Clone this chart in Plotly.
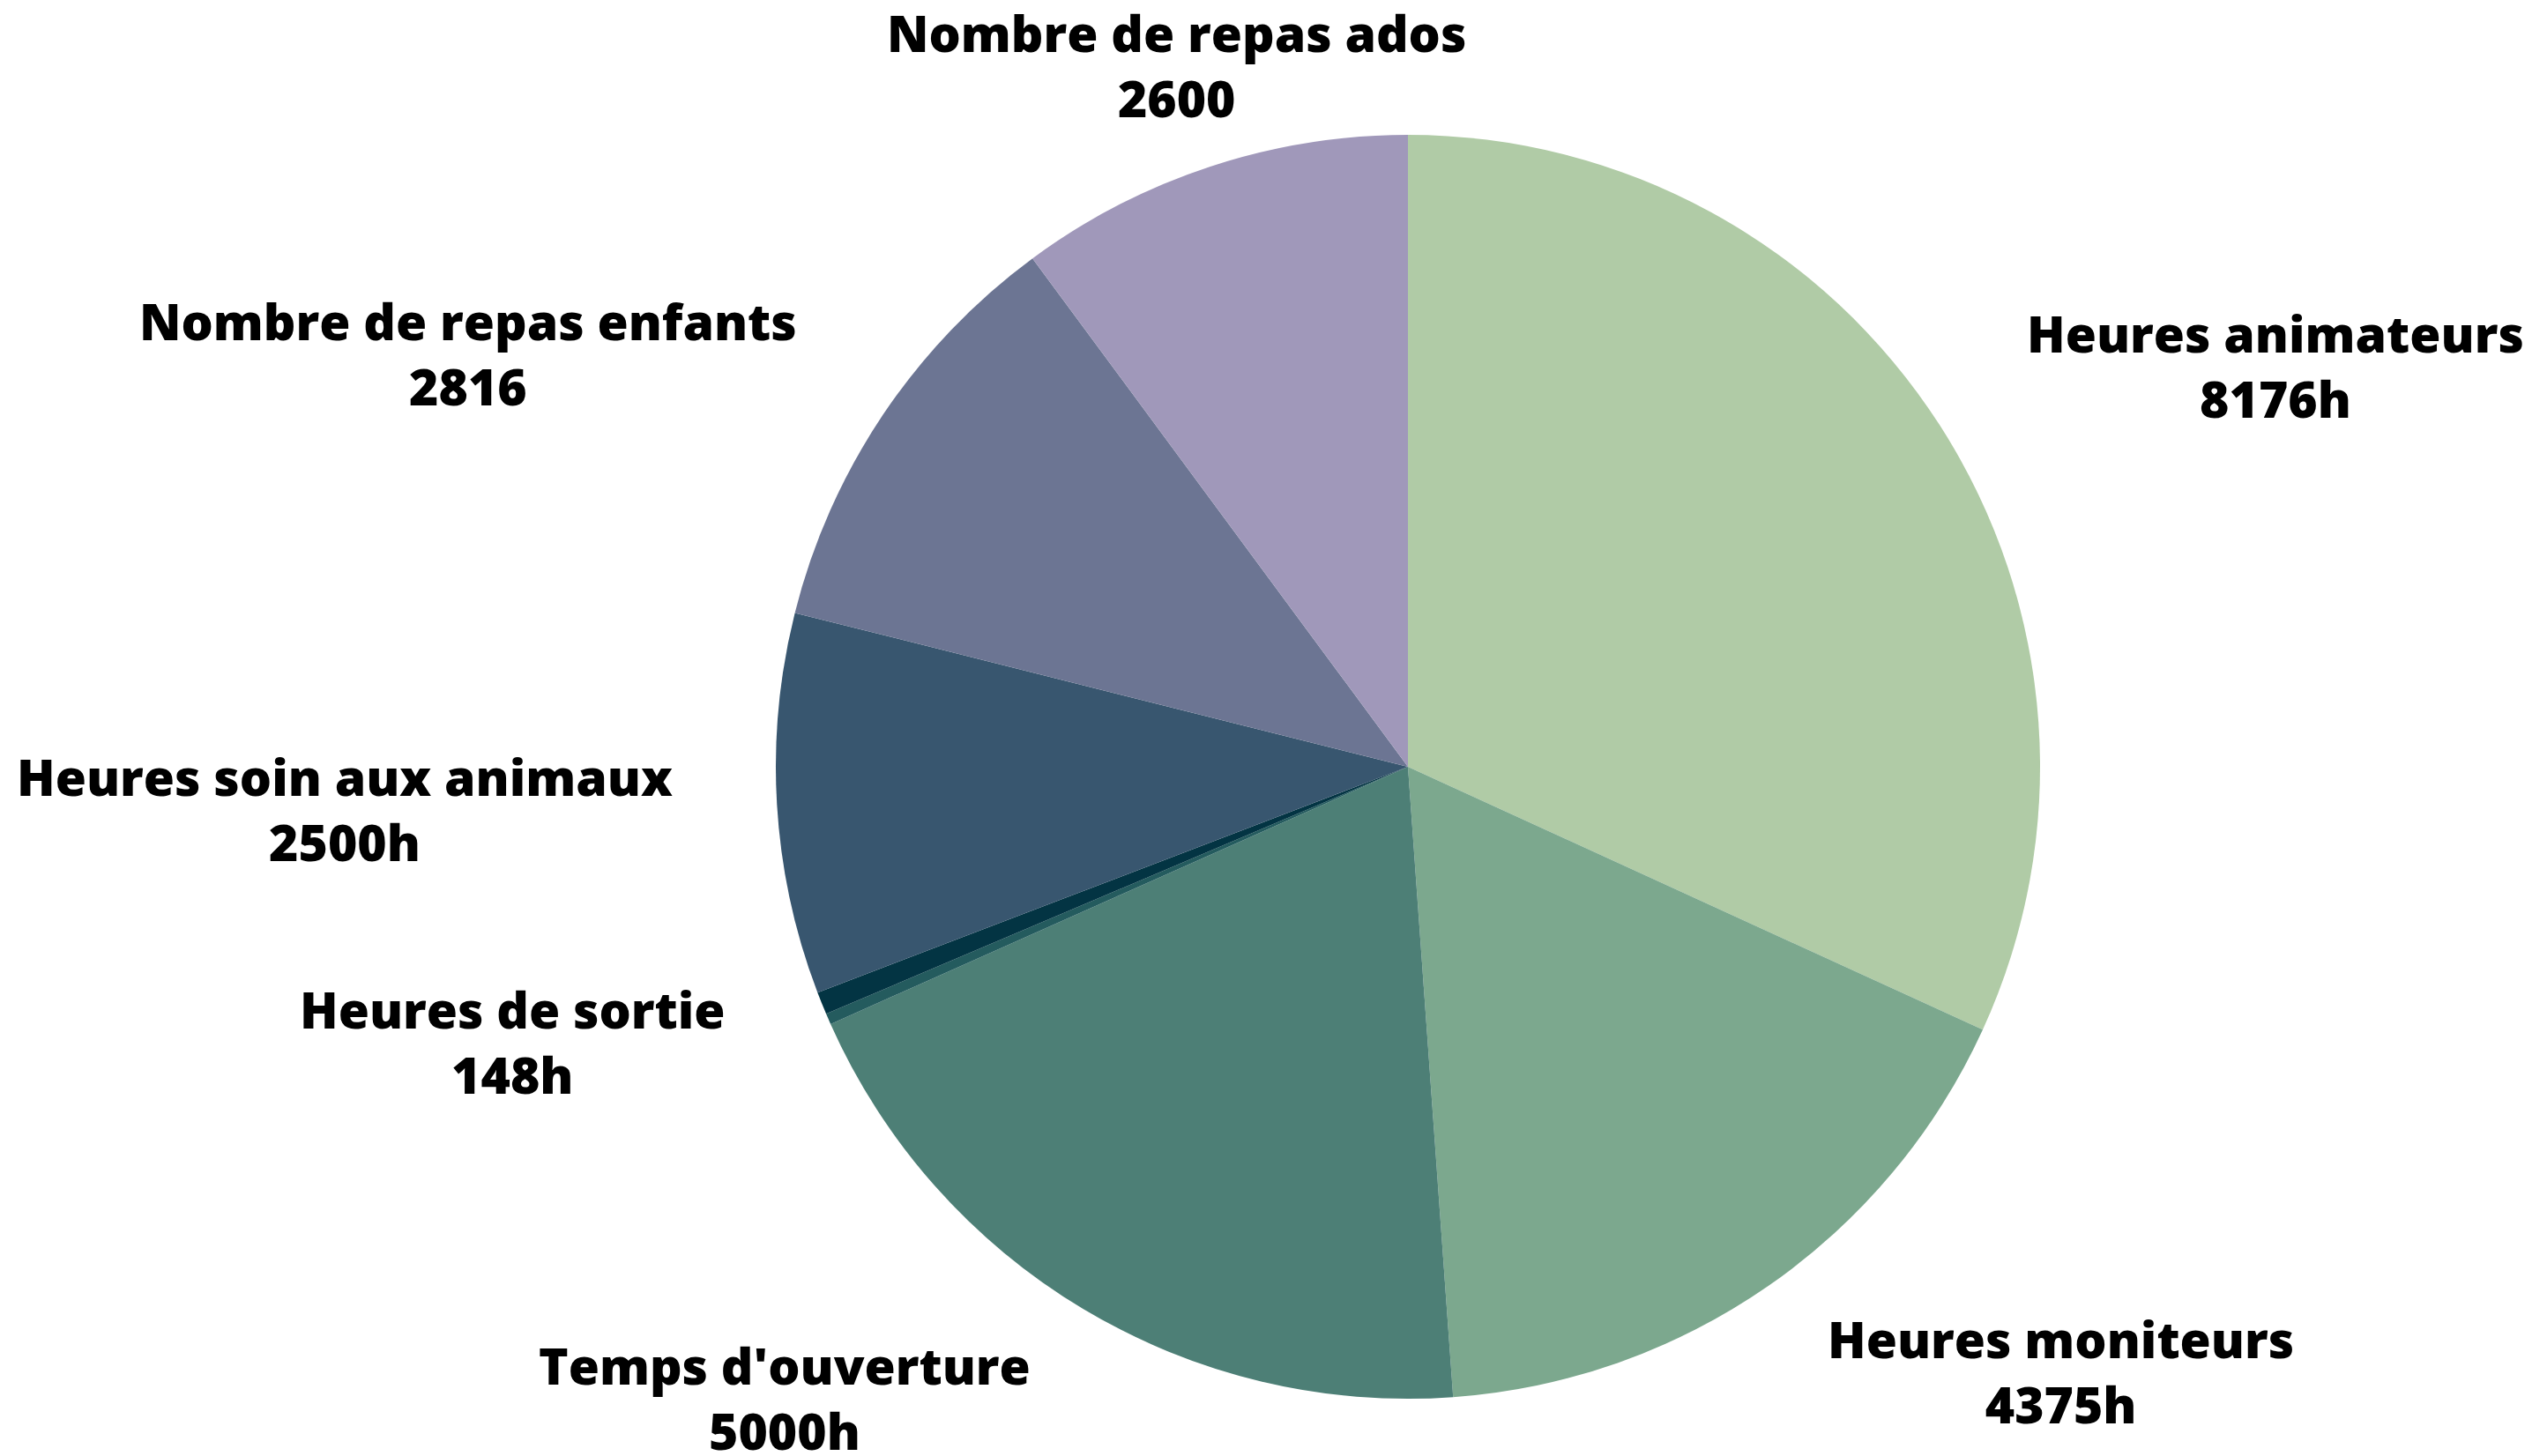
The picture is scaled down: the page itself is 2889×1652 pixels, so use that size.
import plotly.graph_objects as go

# ---- data ----
categories = ["Heures animateurs", "Heures moniteurs", "Temps d'ouverture", "",
              "Heures de sortie", "Heures soin aux animaux",
              "Nombre de repas enfants", "Nombre de repas ados"]
values = [8176, 4375, 5000, 72, 148, 2500, 2816, 2600]
value_labels = ["8176h", "4375h", "5000h", "", "148h", "2500h", "2816", "2600"]
colors = ["#b0cba6", "#7ca88e", "#4d7f76", "#245b5e", "#033443",
          "#38566f", "#6c7593", "#a098ba"]

# ---- layout positions for labels (pixel centres, layout only) ----
W, H = 2889, 1652
label_pos = [(2573, 407), (2329, 1548), (882, 1578), None,
             (573, 1174), (383, 910), (523, 393), (1326, 66)]

fig = go.Figure(go.Pie(
    labels=[c if c else "autre" for c in categories],
    values=values,
    sort=False,
    direction="clockwise",
    rotation=0,
    marker=dict(colors=colors, line=dict(width=0)),
    textinfo="none",
    hoverinfo="label+value",
    showlegend=False,
    domain=dict(x=[872 / W, 2306 / W], y=[1 - 1579 / H, 1 - 145 / H]),
))

for cat, vl, pos in zip(categories, value_labels, label_pos):
    if pos is None or not cat:
        continue
    fig.add_annotation(
        x=pos[0] / W, y=1 - pos[1] / H, xref="paper", yref="paper",
        text=f"{cat}<br>{vl}", showarrow=False, align="center",
        xanchor="center", yanchor="middle", borderpad=0,
        font=dict(family="Open Sans", size=57, color="#000000", weight=800),
    )

fig.update_layout(
    width=W, height=H,
    margin=dict(l=0, r=0, t=0, b=0),
    paper_bgcolor="white", plot_bgcolor="white",
)

fig.write_html("out.html")
